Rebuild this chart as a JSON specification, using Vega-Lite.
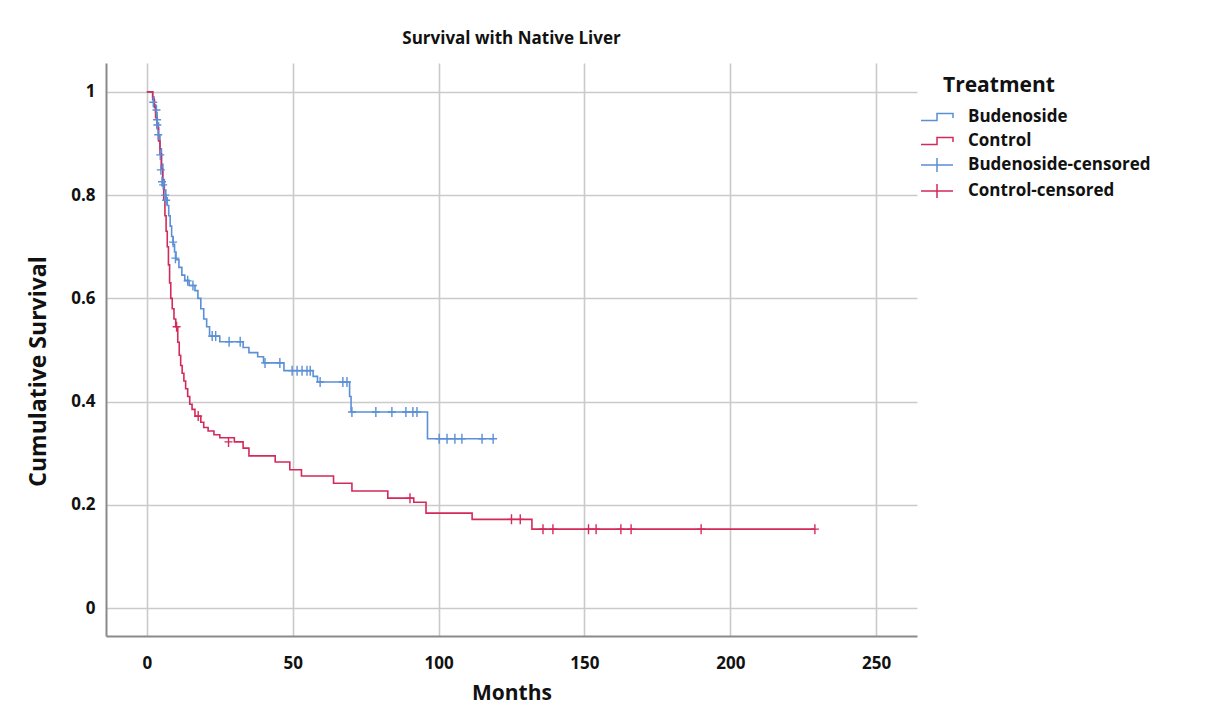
{
  "$schema": "https://vega.github.io/schema/vega-lite/v6.json",
  "autosize": "none",
  "width": 811,
  "height": 573,
  "padding": {"left": 106, "top": 63, "right": 292, "bottom": 86},
  "background": "white",
  "title": {"text": "Survival with Native Liver", "font": "Open Sans", "fontSize": 17, "fontWeight": "bold", "color": "#111", "anchor": "middle", "offset": 15},
  "config": {
    "view": {"stroke": null},
    "axis": {"labelFont": "Open Sans", "labelFontWeight": "bold", "labelFontSize": 17, "labelColor": "#111", "titleFont": "Open Sans", "titleFontWeight": "bold", "titleFontSize": 21, "titleColor": "#111", "ticks": false, "gridColor": "#cacaca", "gridWidth": 1.6, "domainColor": "#8a8a8a", "domainWidth": 2}
  },
  "datasets": {
    "curves": [
      {"group": "Budenoside", "month": 0, "surv": 1.0},
      {"group": "Budenoside", "month": 2, "surv": 0.99},
      {"group": "Budenoside", "month": 2.5, "surv": 0.975},
      {"group": "Budenoside", "month": 3, "surv": 0.96},
      {"group": "Budenoside", "month": 3.5, "surv": 0.94},
      {"group": "Budenoside", "month": 4, "surv": 0.915},
      {"group": "Budenoside", "month": 4.5, "surv": 0.89},
      {"group": "Budenoside", "month": 5, "surv": 0.86},
      {"group": "Budenoside", "month": 5.5, "surv": 0.83},
      {"group": "Budenoside", "month": 6, "surv": 0.81},
      {"group": "Budenoside", "month": 6.5, "surv": 0.795},
      {"group": "Budenoside", "month": 7, "surv": 0.78},
      {"group": "Budenoside", "month": 7.5, "surv": 0.76},
      {"group": "Budenoside", "month": 8, "surv": 0.74},
      {"group": "Budenoside", "month": 8.5, "surv": 0.72},
      {"group": "Budenoside", "month": 9, "surv": 0.705},
      {"group": "Budenoside", "month": 9.5, "surv": 0.69},
      {"group": "Budenoside", "month": 10, "surv": 0.675},
      {"group": "Budenoside", "month": 11, "surv": 0.66},
      {"group": "Budenoside", "month": 12, "surv": 0.645},
      {"group": "Budenoside", "month": 13, "surv": 0.635},
      {"group": "Budenoside", "month": 14.5, "surv": 0.625},
      {"group": "Budenoside", "month": 16.5, "surv": 0.615},
      {"group": "Budenoside", "month": 17.5, "surv": 0.6},
      {"group": "Budenoside", "month": 18.5, "surv": 0.58},
      {"group": "Budenoside", "month": 19.5, "surv": 0.56},
      {"group": "Budenoside", "month": 20.5, "surv": 0.545},
      {"group": "Budenoside", "month": 21.5, "surv": 0.527},
      {"group": "Budenoside", "month": 25, "surv": 0.516},
      {"group": "Budenoside", "month": 33, "surv": 0.505},
      {"group": "Budenoside", "month": 35, "surv": 0.495},
      {"group": "Budenoside", "month": 38, "surv": 0.487},
      {"group": "Budenoside", "month": 40, "surv": 0.475},
      {"group": "Budenoside", "month": 47, "surv": 0.46},
      {"group": "Budenoside", "month": 57, "surv": 0.449},
      {"group": "Budenoside", "month": 58.5, "surv": 0.438},
      {"group": "Budenoside", "month": 69.5, "surv": 0.41},
      {"group": "Budenoside", "month": 70, "surv": 0.38},
      {"group": "Budenoside", "month": 96.2, "surv": 0.328},
      {"group": "Budenoside", "month": 119, "surv": 0.328},
      {"group": "Control", "month": 0, "surv": 1.0},
      {"group": "Control", "month": 2, "surv": 0.985},
      {"group": "Control", "month": 2.6, "surv": 0.97},
      {"group": "Control", "month": 3, "surv": 0.95},
      {"group": "Control", "month": 3.5, "surv": 0.93},
      {"group": "Control", "month": 4, "surv": 0.905},
      {"group": "Control", "month": 4.5, "surv": 0.88},
      {"group": "Control", "month": 5, "surv": 0.85},
      {"group": "Control", "month": 5.4, "surv": 0.82},
      {"group": "Control", "month": 5.8, "surv": 0.79},
      {"group": "Control", "month": 6.2, "surv": 0.76},
      {"group": "Control", "month": 6.6, "surv": 0.73},
      {"group": "Control", "month": 7, "surv": 0.7},
      {"group": "Control", "month": 7.4, "surv": 0.665},
      {"group": "Control", "month": 7.8, "surv": 0.63},
      {"group": "Control", "month": 8.2, "surv": 0.6},
      {"group": "Control", "month": 8.7, "surv": 0.58},
      {"group": "Control", "month": 9.3, "surv": 0.56},
      {"group": "Control", "month": 9.9, "surv": 0.545},
      {"group": "Control", "month": 10.6, "surv": 0.515},
      {"group": "Control", "month": 11.1, "surv": 0.49},
      {"group": "Control", "month": 11.6, "surv": 0.47},
      {"group": "Control", "month": 12.1, "surv": 0.455},
      {"group": "Control", "month": 12.7, "surv": 0.44},
      {"group": "Control", "month": 13.3, "surv": 0.425},
      {"group": "Control", "month": 14, "surv": 0.41},
      {"group": "Control", "month": 14.7, "surv": 0.395},
      {"group": "Control", "month": 15.5, "surv": 0.385},
      {"group": "Control", "month": 16.5, "surv": 0.372},
      {"group": "Control", "month": 18.5, "surv": 0.36},
      {"group": "Control", "month": 19.5, "surv": 0.35},
      {"group": "Control", "month": 21, "surv": 0.343},
      {"group": "Control", "month": 23, "surv": 0.336},
      {"group": "Control", "month": 25, "surv": 0.33},
      {"group": "Control", "month": 30, "surv": 0.322},
      {"group": "Control", "month": 33, "surv": 0.31},
      {"group": "Control", "month": 35, "surv": 0.295},
      {"group": "Control", "month": 44, "surv": 0.283},
      {"group": "Control", "month": 49, "surv": 0.268},
      {"group": "Control", "month": 53, "surv": 0.256},
      {"group": "Control", "month": 64, "surv": 0.242},
      {"group": "Control", "month": 70.3, "surv": 0.227},
      {"group": "Control", "month": 82.6, "surv": 0.213},
      {"group": "Control", "month": 91.5, "surv": 0.205},
      {"group": "Control", "month": 95.7, "surv": 0.184},
      {"group": "Control", "month": 111.5, "surv": 0.172},
      {"group": "Control", "month": 132, "surv": 0.153},
      {"group": "Control", "month": 229, "surv": 0.153}
    ],
    "censored": [
      {"group": "Budenoside-censored", "month": 2.2, "surv": 0.98},
      {"group": "Budenoside-censored", "month": 3.3, "surv": 0.965},
      {"group": "Budenoside-censored", "month": 3.5, "surv": 0.946},
      {"group": "Budenoside-censored", "month": 3.6, "surv": 0.936},
      {"group": "Budenoside-censored", "month": 3.9, "surv": 0.917},
      {"group": "Budenoside-censored", "month": 4.6, "surv": 0.878},
      {"group": "Budenoside-censored", "month": 4.8, "surv": 0.849},
      {"group": "Budenoside-censored", "month": 5.2, "surv": 0.826},
      {"group": "Budenoside-censored", "month": 5.6, "surv": 0.82},
      {"group": "Budenoside-censored", "month": 6.3, "surv": 0.8},
      {"group": "Budenoside-censored", "month": 6.6, "surv": 0.79},
      {"group": "Budenoside-censored", "month": 9, "surv": 0.709},
      {"group": "Budenoside-censored", "month": 9.8, "surv": 0.678},
      {"group": "Budenoside-censored", "month": 14, "surv": 0.634},
      {"group": "Budenoside-censored", "month": 15.8, "surv": 0.625},
      {"group": "Budenoside-censored", "month": 22.4, "surv": 0.527},
      {"group": "Budenoside-censored", "month": 23.6, "surv": 0.527},
      {"group": "Budenoside-censored", "month": 28.2, "surv": 0.516},
      {"group": "Budenoside-censored", "month": 32, "surv": 0.516},
      {"group": "Budenoside-censored", "month": 40.5, "surv": 0.475},
      {"group": "Budenoside-censored", "month": 45.6, "surv": 0.475},
      {"group": "Budenoside-censored", "month": 49.8, "surv": 0.46},
      {"group": "Budenoside-censored", "month": 51.5, "surv": 0.46},
      {"group": "Budenoside-censored", "month": 53.2, "surv": 0.46},
      {"group": "Budenoside-censored", "month": 54.9, "surv": 0.46},
      {"group": "Budenoside-censored", "month": 56, "surv": 0.46},
      {"group": "Budenoside-censored", "month": 59.4, "surv": 0.438},
      {"group": "Budenoside-censored", "month": 67.2, "surv": 0.438},
      {"group": "Budenoside-censored", "month": 68.6, "surv": 0.438},
      {"group": "Budenoside-censored", "month": 70.3, "surv": 0.38},
      {"group": "Budenoside-censored", "month": 78.5, "surv": 0.38},
      {"group": "Budenoside-censored", "month": 84, "surv": 0.38},
      {"group": "Budenoside-censored", "month": 88.8, "surv": 0.38},
      {"group": "Budenoside-censored", "month": 91.2, "surv": 0.38},
      {"group": "Budenoside-censored", "month": 92.6, "surv": 0.38},
      {"group": "Budenoside-censored", "month": 100.2, "surv": 0.328},
      {"group": "Budenoside-censored", "month": 102.9, "surv": 0.328},
      {"group": "Budenoside-censored", "month": 105.6, "surv": 0.328},
      {"group": "Budenoside-censored", "month": 108, "surv": 0.328},
      {"group": "Budenoside-censored", "month": 114.9, "surv": 0.328},
      {"group": "Budenoside-censored", "month": 118.7, "surv": 0.328},
      {"group": "Control-censored", "month": 10.2, "surv": 0.545},
      {"group": "Control-censored", "month": 17.6, "surv": 0.372},
      {"group": "Control-censored", "month": 28, "surv": 0.322},
      {"group": "Control-censored", "month": 90.2, "surv": 0.213},
      {"group": "Control-censored", "month": 125, "surv": 0.172},
      {"group": "Control-censored", "month": 128, "surv": 0.172},
      {"group": "Control-censored", "month": 135.8, "surv": 0.153},
      {"group": "Control-censored", "month": 139.2, "surv": 0.153},
      {"group": "Control-censored", "month": 151.4, "surv": 0.153},
      {"group": "Control-censored", "month": 154, "surv": 0.153},
      {"group": "Control-censored", "month": 162.5, "surv": 0.153},
      {"group": "Control-censored", "month": 166, "surv": 0.153},
      {"group": "Control-censored", "month": 190, "surv": 0.153},
      {"group": "Control-censored", "month": 229, "surv": 0.153}
    ]
  },
  "encoding": {
    "x": {"field": "month", "type": "quantitative", "scale": {"domain": [-14, 264], "nice": false, "zero": false}, "axis": {"values": [0, 50, 100, 150, 200, 250], "labelPadding": 19, "title": "Months", "titleX": 405.5, "titleY": 57, "titleBaseline": "middle"}},
    "y": {"field": "surv", "type": "quantitative", "scale": {"domain": [-0.054, 1.056], "nice": false, "zero": false}, "axis": {"values": [0, 0.2, 0.4, 0.6, 0.8, 1], "format": "~g", "labelPadding": 11, "title": "Cumulative Survival", "titleFontSize": 23, "titleX": -68, "titleY": 308, "titleAngle": -90, "titleBaseline": "middle", "titleAlign": "center"}},
    "color": {"field": "group", "type": "nominal", "scale": {"domain": ["Budenoside", "Control", "Budenoside-censored", "Control-censored"], "range": ["#5b8fd6", "#d42a5b", "#5b8fd6", "#d42a5b"]},
      "legend": {"title": "Treatment", "orient": "none", "legendX": 837, "legendY": 12, "titleFont": "Open Sans", "titleFontSize": 21, "titleFontWeight": "bold", "titleColor": "#111", "titlePadding": 10, "labelFont": "Open Sans", "labelFontSize": 17, "labelFontWeight": "bold", "labelColor": "#111", "labelOffset": 3, "labelLimit": 400, "symbolSize": 400, "rowPadding": 5,
        "encode": {"symbols": {"update": {
          "shape": {"signal": "indexof(datum.value, 'censored') >= 0 ? 'M-3.3,0H-0.1M-1.7,-0.7V0.7' : 'M-3.3,0.35H-1.7V-0.35H-0.1V0.1'"},
          "fill": {"value": "transparent"},
          "stroke": {"scale": "color", "field": "value"},
          "strokeWidth": {"value": 1.5},
          "opacity": {"value": 1}
        }}}}
    }
  },
  "layer": [
    {"data": {"name": "curves"}, "mark": {"type": "line", "interpolate": "step-after", "strokeWidth": 1.6}, "encoding": {"detail": {"field": "group"}}},
    {"data": {"name": "censored"}, "mark": {"type": "point", "shape": "M0,-1V1M-0.8,0H0.8", "filled": false, "size": 100, "strokeWidth": 1.4, "opacity": 1}}
  ]
}
